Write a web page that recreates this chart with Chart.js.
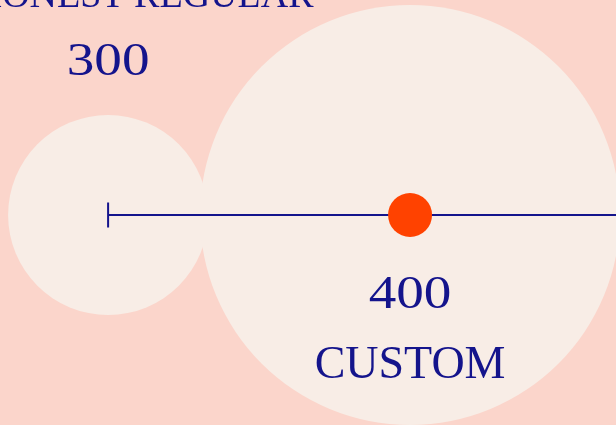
<!DOCTYPE html>
<html>
<head>
<meta charset="utf-8">
<script src="https://cdn.jsdelivr.net/npm/chart.js@4/dist/chart.umd.min.js"></script>
<style>
  html, body { margin: 0; padding: 0; background: #fbd5cb; }
  #wrap { width: 616px; height: 425px; }
</style>
</head>
<body>
<div id="wrap"><canvas id="priceChart" width="616" height="425"></canvas></div>
<script>
// donnees
const categories = ["HONEST REGULAR", "CUSTOM"];
const prix = [300, 400];
const xMin = 264.2, xMax = 468.2;

const navy = "#14148c";
const cream = "#f8ede6";
const rouge = "#ff4200";
const police = "46px 'Liberation Serif', serif";
const policePetite = "38px 'Liberation Serif', serif";

// chiffres un peu plus larges
function texteLarge(ctx, txt, x, y) {
    ctx.save();
    ctx.translate(x, y);
    ctx.scale(1.2, 1);
    ctx.fillText(txt, 0, 0);
    ctx.restore();
}

// textes au-dessus / en-dessous des points
const labelsPlugin = {
    id: 'labelsPlugin',
    afterDatasetsDraw(chart) {
        const ctx = chart.ctx;
        const xs = chart.scales.x, ys = chart.scales.y;
        ctx.save();
        ctx.font = police;
        ctx.fillStyle = navy;
        ctx.textAlign = 'center';
        ctx.textBaseline = 'alphabetic';
        let y0 = ys.getPixelForValue(0);
        // prix regulier : au-dessus
        let x1 = xs.getPixelForValue(prix[0]);
        texteLarge(ctx, String(prix[0]), x1, y0 - 140);
        ctx.font = policePetite;
        ctx.fillText(categories[0], x1 + 36, y0 - 208);
        // prix custom : en-dessous
        ctx.font = police;
        let x2 = xs.getPixelForValue(prix[1]);
        texteLarge(ctx, String(prix[1]), x2, y0 + 93);
        ctx.fillText(categories[1], x2, y0 + 163);
        ctx.restore();
    }
};

const ctx = document.getElementById('priceChart').getContext('2d');
const chart = new Chart(ctx, {
    type: 'scatter',
    data: {
        datasets: [
            {
                // point rouge
                data: [{x: prix[1], y: 0}],
                backgroundColor: rouge,
                borderWidth: 0,
                pointRadius: 22,
                clip: false,
                order: 1
            },
            {
                // ligne depuis le prix regulier
                type: 'line',
                data: [{x: prix[0], y: 0}, {x: xMax, y: 0}],
                borderColor: navy,
                borderWidth: 2,
                pointStyle: 'line',
                rotation: 90,
                pointBorderColor: navy,
                pointBorderWidth: 2,
                pointRadius: c => c.dataIndex === 0 ? 12.5 : 0,
                clip: false,
                order: 2
            },
            {
                // cercles de fond
                data: prix.map(p => ({x: p, y: 0})),
                backgroundColor: cream,
                borderWidth: 0,
                pointRadius: c => c.dataIndex === 0 ? 100 : 210,
                clip: false,
                order: 3
            }
        ]
    },
    options: {
        responsive: false,
        animation: false,
        events: [],
        layout: { padding: 0, autoPadding: false },
        plugins: { legend: { display: false }, tooltip: { enabled: false } },
        scales: {
            x: { type: 'linear', min: xMin, max: xMax, display: false },
            y: { type: 'linear', min: -210, max: 215, display: false }
        }
    },
    plugins: [labelsPlugin]
});
</script>
</body>
</html>
